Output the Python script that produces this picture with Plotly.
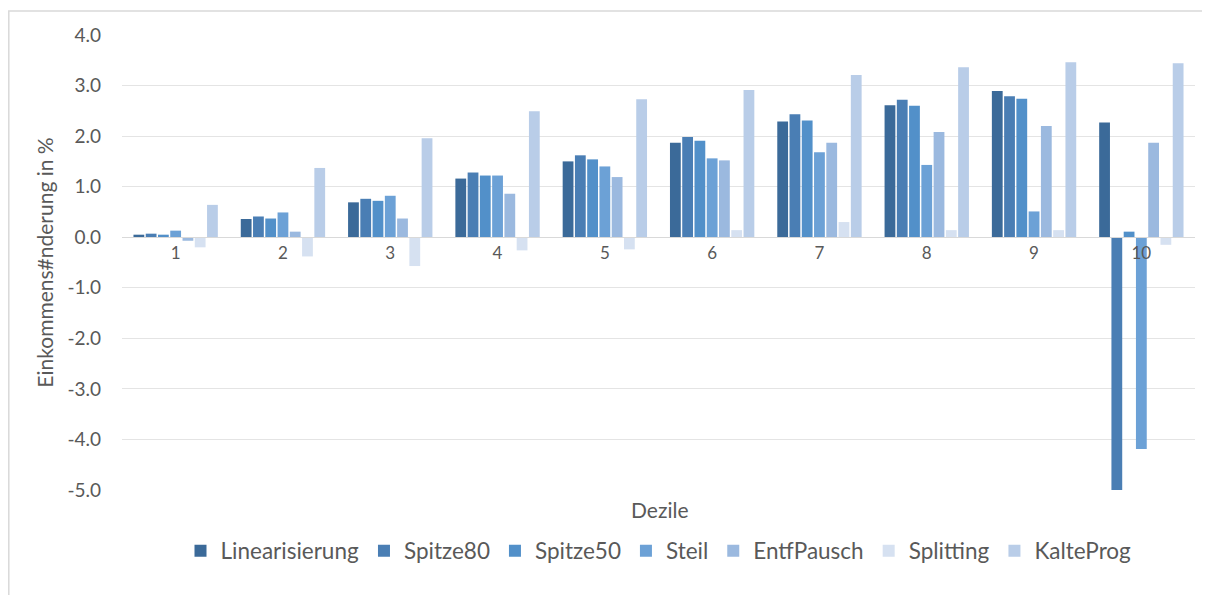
import plotly.graph_objects as go

deciles = ["1", "2", "3", "4", "5", "6", "7", "8", "9", "10"]
series_names = ["Linearisierung", "Spitze80", "Spitze50", "Steil", "EntfPausch", "Splitting", "KalteProg"]

linearisierung = [0.05, 0.36, 0.69, 1.16, 1.50, 1.87, 2.29, 2.61, 2.89, 2.27]
spitze80 = [0.07, 0.41, 0.76, 1.28, 1.62, 1.98, 2.43, 2.72, 2.79, -5.05]
spitze50 = [0.05, 0.37, 0.72, 1.22, 1.54, 1.91, 2.31, 2.60, 2.74, 0.11]
steil = [0.13, 0.49, 0.82, 1.22, 1.40, 1.56, 1.68, 1.43, 0.51, -4.19]
entfpausch = [-0.07, 0.11, 0.37, 0.86, 1.19, 1.52, 1.87, 2.08, 2.20, 1.87]
splitting = [-0.20, -0.38, -0.57, -0.26, -0.24, 0.14, 0.30, 0.14, 0.14, -0.15]
kalteprog = [0.64, 1.37, 1.96, 2.49, 2.73, 2.91, 3.21, 3.36, 3.46, 3.44]

y_ticks = [4, 3, 2, 1, 0, -1, -2, -3, -4, -5]
y_tick_text = ["%.1f" % v for v in y_ticks]

all_values = [linearisierung, spitze80, spitze50, steil, entfpausch, splitting, kalteprog]
colors = ["#3b6a99", "#4a7eb4", "#5290c9", "#6ca1d6", "#9bb9df", "#d6e1f1", "#b9cde8"]

FONT = "Lato"
GRAY = "#595959"

fig = go.Figure()
for name, vals, col in zip(series_names, all_values, colors):
    fig.add_trace(go.Bar(
        x=deciles, y=vals, name=name,
        marker=dict(color=col, line=dict(width=0)),
    ))

# page body has an 8px margin; figure coordinates below are relative to it
W, H = 1202, 587
L, R, T, B = 114, 15, 27, 105
pw, ph = W - L - R, H - T - B
zero_pos = (0 - (-5)) / 9.0

fig.update_layout(
    width=W, height=H,
    margin=dict(l=L, r=R, t=T, b=B, autoexpand=False),
    paper_bgcolor="white", plot_bgcolor="white",
    barmode="group", bargap=0.2, bargroupgap=0.12,
    font=dict(family=FONT, size=14, color=GRAY),
    showlegend=True,
    legend=dict(orientation="h", x=0.5, xanchor="center",
                y=(T + ph - 543) / ph, yanchor="middle",
                font=dict(family=FONT, size=22.5, color=GRAY),
                itemsizing="constant", traceorder="normal",
                itemwidth=30, bgcolor="rgba(0,0,0,0)"),
    xaxis=dict(type="category", anchor="free", position=zero_pos,
               showline=True, linecolor="#d9d9d9", linewidth=1,
               ticks="", showgrid=False, zeroline=False,
               tickfont=dict(family=FONT, size=17, color=GRAY)),
    yaxis=dict(range=[-5, 4], tickvals=y_ticks, ticktext=y_tick_text,
               showgrid=True, gridcolor="#e4e4e4", gridwidth=1,
               zeroline=False, showline=False, ticks="",
               ticklabelstandoff=20,
               tickfont=dict(family=FONT, size=19, color=GRAY),
               title=dict(text="Einkommens#nderung in %", standoff=8,
                          font=dict(family=FONT, size=21, color=GRAY))),
    annotations=[dict(text="Dezile", xref="paper", yref="paper",
                      x=(652 - L) / pw, y=(T + ph - 501) / ph,
                      showarrow=False, xanchor="center", yanchor="middle",
                      font=dict(family=FONT, size=21, color=GRAY))],
    shapes=[dict(type="path", xref="paper", yref="paper",
                 path="M %f,%f L %f,%f L %f,%f" % (
                     (0.8 - L) / pw, -0.5,
                     (0.8 - L) / pw, (T + ph - 3) / ph,
                     1.2, (T + ph - 3) / ph),
                 line=dict(color="#d9d9d9", width=1.5), layer="below")],
)

fig.write_html("out.html")
